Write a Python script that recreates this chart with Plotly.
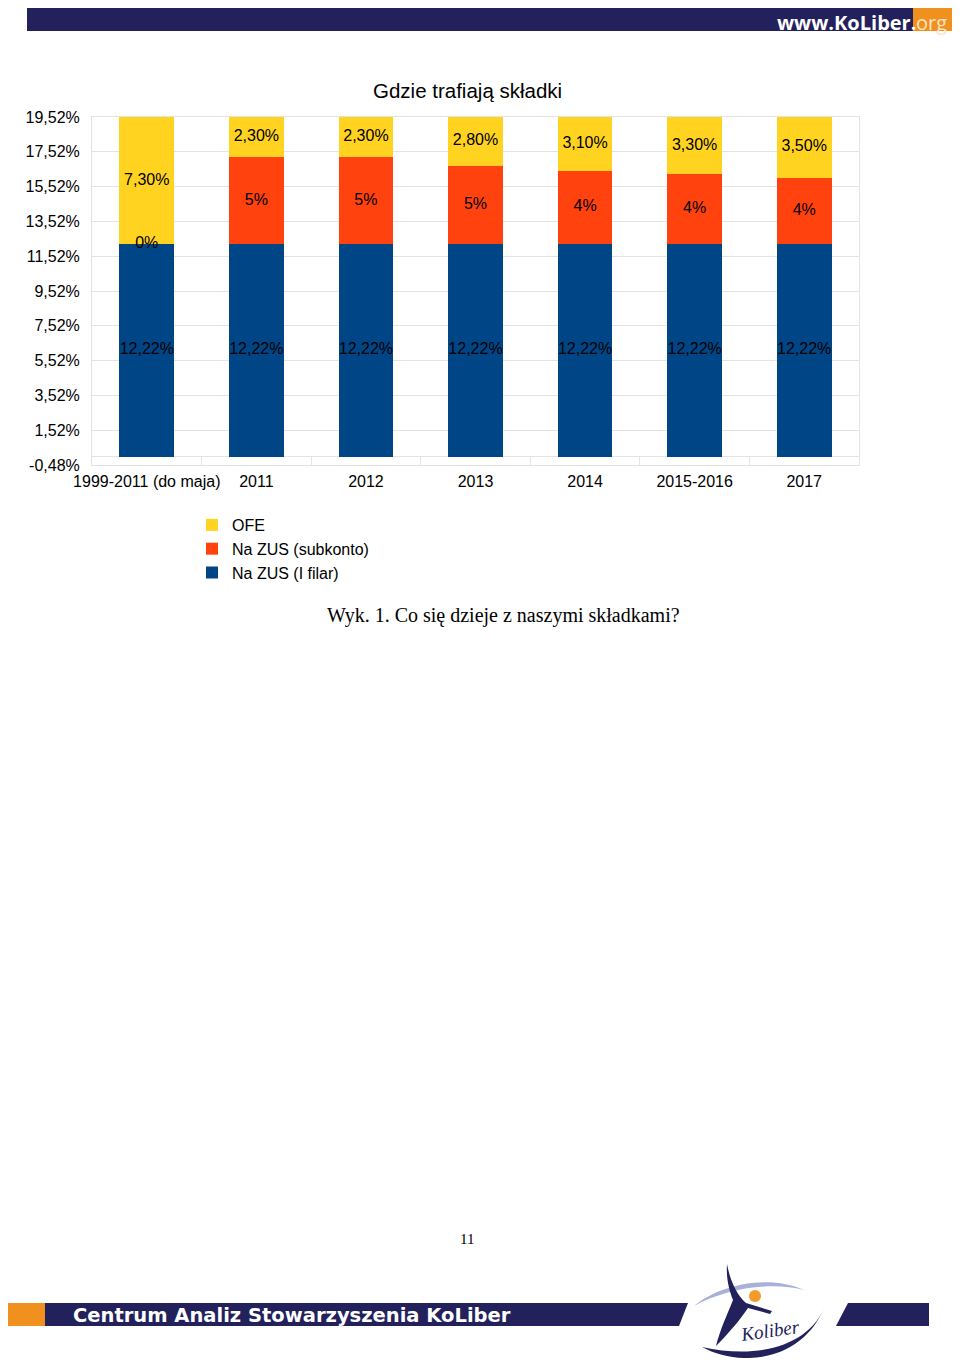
import plotly.graph_objects as go
from decimal import Decimal, ROUND_HALF_UP

# ---------------- data ----------------
categories = ["1999-2011 (do maja)", "2011", "2012", "2013", "2014", "2015-2016", "2017"]
zus_filar = [12.22, 12.22, 12.22, 12.22, 12.22, 12.22, 12.22]
zus_subkonto = [0.0, 5.0, 5.0, 4.5, 4.2, 4.0, 3.8]
ofe = [7.30, 2.30, 2.30, 2.80, 3.10, 3.30, 3.50]

series_names = ["Na ZUS (I filar)", "Na ZUS (subkonto)", "OFE"]
series_colors = ["#004586", "#FF420E", "#FFD320"]

y_min, y_max, y_step = -0.48, 19.52, 2.0
title_text = "Gdzie trafiają składki"
caption_text = "Wyk. 1. Co się dzieje z naszymi składkami?"
page_number = "11"
header_text = "www.KoLiber."
header_suffix = "org"
footer_text = "Centrum Analiz Stowarzyszenia KoLiber"

# page is offset by the browser's 8px body margin
OFF = 8
W, H = 960 - 2 * OFF, 1366 - 2 * OFF
NAVY = "#22215B"
ORANGE = "#F0901F"
FONT = "Liberation Sans"
SERIF = "Liberation Serif"


def px(x):
    return (x - OFF) / W


def py(y):
    return 1 - (y - OFF) / H


def fmt2(v):
    return ("%.2f" % v).replace(".", ",") + "%"


def fmt0(v):
    return str(Decimal(str(v)).quantize(Decimal("1"), rounding=ROUND_HALF_UP)) + "%"


def path(points):
    s = "M %.5f,%.5f " % (px(points[0][0]), py(points[0][1]))
    for p in points[1:]:
        if p[0] == "C":
            (a, b), (c, d), (e, f) = p[1], p[2], p[3]
            s += "C %.5f,%.5f %.5f,%.5f %.5f,%.5f " % (px(a), py(b), px(c), py(d), px(e), py(f))
        else:
            s += "L %.5f,%.5f " % (px(p[0]), py(p[1]))
    return s + "Z"


fig = go.Figure()
all_series = [zus_filar, zus_subkonto, ofe]
for name, vals, col in zip(series_names, all_series, series_colors):
    fig.add_trace(go.Bar(x=categories, y=vals, name=name, legendgroup=name,
                         marker=dict(color=col, line=dict(width=0)), hoverinfo="x+y+name"))

# labels at segment midpoints
lab_x, lab_y, lab_t = [], [], []
for i, c in enumerate(categories):
    base = 0.0
    for k, vals in enumerate(all_series):
        v = vals[i]
        lab_x.append(c)
        lab_y.append(base + v / 2)
        lab_t.append(fmt0(v) if k == 1 else fmt2(v))
        base += v
fig.add_trace(go.Scatter(x=lab_x, y=lab_y, text=lab_t, mode="text", showlegend=False,
                         textfont=dict(family=FONT, size=16, color="#000000"), hoverinfo="skip"))

n_ticks = int(round((y_max - y_min) / y_step)) + 1
tickvals = [y_min + y_step * i for i in range(n_ticks)]
ticktext = [fmt2(v) for v in tickvals]

grid = "#e3e3e3"
fig.update_layout(
    template="none",
    width=W, height=H, margin=dict(l=0, r=0, t=0, b=0, autoexpand=False),
    paper_bgcolor="white", plot_bgcolor="white",
    barmode="stack", bargap=0.5,
    font=dict(family=FONT, size=16, color="#000000"),
    xaxis=dict(domain=[px(92), px(859)], type="category", tickson="boundaries",
               ticks="inside", ticklen=8, tickcolor=grid, tickwidth=1, tickangle=0,
               showline=True, linecolor=grid, linewidth=1, mirror=True, showgrid=False,
               automargin=False,
               tickfont=dict(family=FONT, size=16, color="#000000"), ticklabelstandoff=2),
    yaxis=dict(domain=[py(465), py(117)], range=[y_min, y_max], tickvals=tickvals, ticktext=ticktext,
               showgrid=True, gridcolor=grid, gridwidth=1, zeroline=True, zerolinecolor=grid, zerolinewidth=1,
               showline=True, linecolor=grid, linewidth=1, mirror=True, ticks="", automargin=False,
               tickfont=dict(family=FONT, size=16, color="#000000"), ticklabelstandoff=8),
    legend=dict(x=px(192), y=py(508), xanchor="left", yanchor="top", traceorder="reversed",
                tracegroupgap=4, borderwidth=0,
                font=dict(family=FONT, size=16, color="#000000"), bgcolor="rgba(0,0,0,0)"),
    showlegend=True,
)

ann = []
ann.append(dict(text=title_text, x=px(467), y=py(90), xref="paper", yref="paper", showarrow=False,
                xanchor="center", yanchor="middle", font=dict(family=FONT, size=20.5, color="#000000")))
ann.append(dict(text=caption_text, x=px(503), y=py(616), xref="paper", yref="paper", showarrow=False,
                xanchor="center", yanchor="middle", font=dict(family=SERIF, size=20, color="#000000")))
ann.append(dict(text=page_number, x=px(467), y=py(1239), xref="paper", yref="paper", showarrow=False,
                xanchor="center", yanchor="middle", font=dict(family=SERIF, size=15, color="#000000")))
ann.append(dict(text="<b>" + header_text + "</b>", x=px(917), y=py(8), xref="paper", yref="paper",
                showarrow=False, xanchor="right", yanchor="top", borderpad=0,
                font=dict(family="Open Sans", size=20, color="#ffffff")))
ann.append(dict(text=header_suffix, x=px(915), y=py(8), xref="paper", yref="paper",
                showarrow=False, xanchor="left", yanchor="top", borderpad=0,
                font=dict(family="Open Sans", size=20, color="#FCE3C6")))
ann.append(dict(text="<b>" + footer_text + "</b>", x=px(71), y=py(1315), xref="paper", yref="paper",
                showarrow=False, xanchor="left", yanchor="middle",
                font=dict(family="DejaVu Sans", size=19.5, color="#ffffff")))
ann.append(dict(text="<i>Koliber</i>", x=px(770), y=py(1330), xref="paper", yref="paper",
                showarrow=False, xanchor="center", yanchor="middle", textangle=-8,
                font=dict(family=SERIF, size=19, color=NAVY)))
fig.update_layout(annotations=ann)

shapes = []
# header
shapes.append(dict(type="rect", xref="paper", yref="paper", x0=px(27), x1=px(953), y0=py(31), y1=py(3),
                   fillcolor=NAVY, line=dict(width=0), layer="below"))
shapes.append(dict(type="rect", xref="paper", yref="paper", x0=px(913), x1=px(953), y0=py(31), y1=py(3),
                   fillcolor=ORANGE, line=dict(width=0), layer="below"))
# footer bars
shapes.append(dict(type="rect", xref="paper", yref="paper", x0=px(5), x1=px(45), y0=py(1326), y1=py(1303),
                   fillcolor=ORANGE, line=dict(width=0), layer="below"))
shapes.append(dict(type="path", xref="paper", yref="paper",
                   path=path([(45, 1303), (688, 1303), (679, 1326), (45, 1326)]),
                   fillcolor=NAVY, line=dict(width=0), layer="below"))
shapes.append(dict(type="path", xref="paper", yref="paper",
                   path=path([(848, 1303), (929, 1303), (929, 1326), (836, 1326)]),
                   fillcolor=NAVY, line=dict(width=0), layer="below"))
# logo: light arc
shapes.append(dict(type="path", xref="paper", yref="paper",
                   path=path([(694, 1306), ("C", (720, 1284), (770, 1274), (804, 1290)),
                              ("C", (770, 1281), (725, 1289), (694, 1306))]),
                   fillcolor="#A9B1DA", line=dict(width=0)))
# logo: figure
shapes.append(dict(type="path", xref="paper", yref="paper",
                   path=path([(727, 1264), ("C", (730, 1280), (736, 1294), (746, 1303)),
                              (772, 1311), (770, 1314), (748, 1308),
                              ("C", (740, 1320), (728, 1334), (716, 1346)),
                              ("C", (720, 1330), (727, 1315), (733, 1300)),
                              ("C", (729, 1290), (726, 1278), (727, 1264))]),
                   fillcolor=NAVY, line=dict(width=0)))
# logo: bottom crescent
shapes.append(dict(type="path", xref="paper", yref="paper",
                   path=path([(702, 1347), ("C", (740, 1368), (805, 1362), (826, 1303)),
                              ("C", (812, 1345), (760, 1360), (702, 1347))]),
                   fillcolor=NAVY, line=dict(width=0)))
# logo: orange dot
shapes.append(dict(type="circle", xref="paper", yref="paper", x0=px(749), x1=px(761), y0=py(1302), y1=py(1290),
                   fillcolor="#F39A2B", line=dict(width=0)))
fig.update_layout(shapes=shapes)

fig.write_html("out.html")
